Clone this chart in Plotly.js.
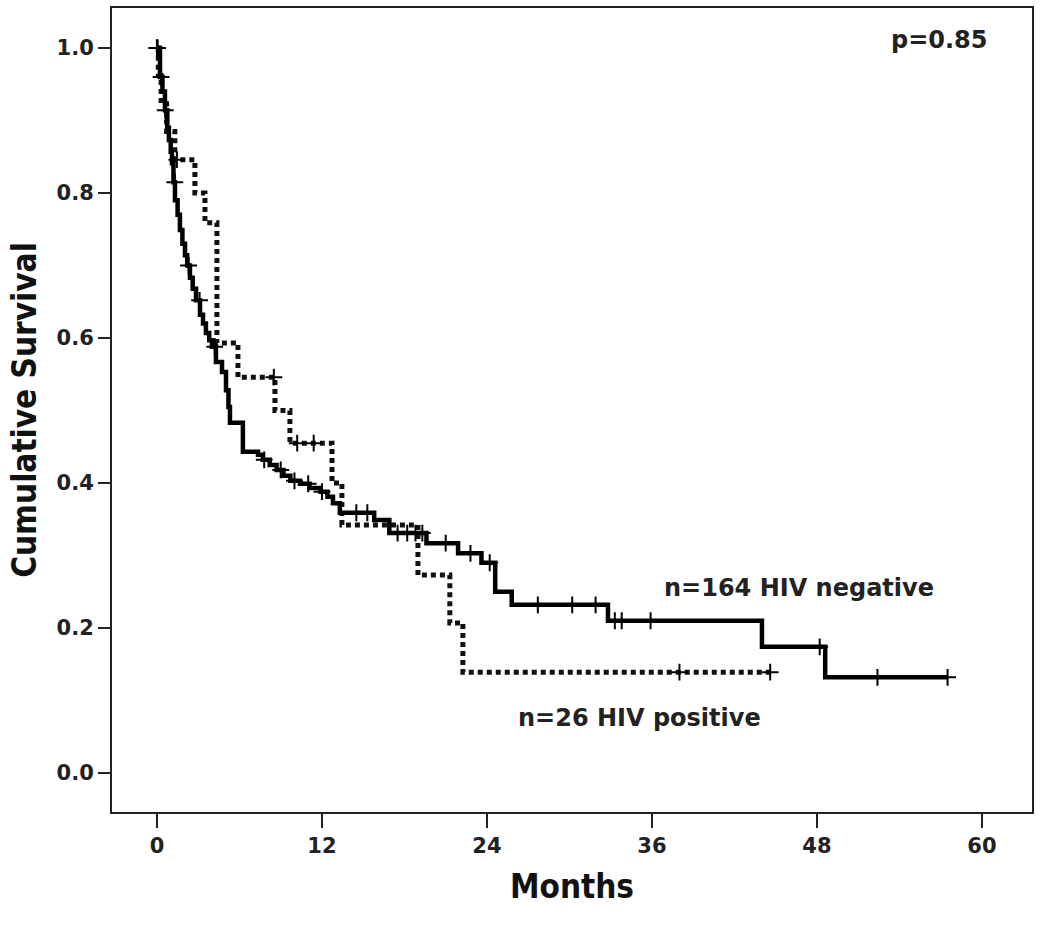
<!DOCTYPE html>
<html>
<head>
<meta charset="utf-8">
<script src="https://cdn.plot.ly/plotly-3.0.1.min.js"></script>
<style>html,body{margin:0;padding:0;background:#fff;}#chart{width:1050px;height:927px;}</style>
</head>
<body>
<div id="chart"></div>
<script>
// HIV negative (n=164) Kaplan-Meier steps: time (months) and survival after each drop
var negTime = [0, 0.22, 0.4, 0.58, 0.75, 0.87, 1.0, 1.09, 1.2, 1.31, 1.5, 1.67, 1.85, 2.04, 2.2, 2.4, 2.6, 2.84, 3.13, 3.35, 3.56, 3.8, 4.0, 4.29, 4.73, 5.02, 5.2, 5.31, 6.25, 7.35, 7.7, 8.2, 8.7, 9.2, 9.7, 10.4, 11.1, 11.9, 12.4, 12.8, 13.3, 15.8, 16.9, 19.6, 21.9, 23.6, 24.6, 25.8, 32.8, 44.0, 48.6, 57.5];
var negSurv = [1.0, 0.96, 0.94, 0.914, 0.89, 0.873, 0.857, 0.841, 0.815, 0.79, 0.77, 0.749, 0.73, 0.714, 0.70, 0.683, 0.668, 0.652, 0.632, 0.62, 0.607, 0.597, 0.588, 0.567, 0.553, 0.528, 0.505, 0.483, 0.443, 0.439, 0.432, 0.425, 0.418, 0.41, 0.403, 0.399, 0.393, 0.388, 0.381, 0.372, 0.359, 0.349, 0.331, 0.317, 0.303, 0.29, 0.25, 0.232, 0.21, 0.174, 0.132, 0.132];
// HIV negative censored observations
var negCensTime = [0.0, 0.05, 0.3, 0.6, 1.3, 2.3, 3.1, 4.2, 7.8, 9.0, 10.0, 11.0, 12.0, 14.5, 15.3, 17.5, 18.2, 18.8, 19.3, 21.0, 22.8, 24.2, 27.7, 30.2, 31.9, 33.3, 33.8, 35.9, 48.2, 52.4, 57.5];
var negCensSurv = [1.0, 1.0, 0.96, 0.914, 0.815, 0.70, 0.652, 0.588, 0.432, 0.418, 0.403, 0.399, 0.388, 0.359, 0.359, 0.331, 0.331, 0.331, 0.331, 0.317, 0.303, 0.29, 0.232, 0.232, 0.232, 0.21, 0.21, 0.21, 0.174, 0.132, 0.132];

// HIV positive (n=26)
var posTime = [0, 0.1, 0.3, 0.7, 1.3, 2.76, 3.49, 4.36, 5.89, 8.58, 9.67, 12.73, 13.45, 18.98, 21.3, 22.25, 44.6];
var posSurv = [1.0, 0.962, 0.923, 0.885, 0.846, 0.80, 0.759, 0.593, 0.546, 0.50, 0.455, 0.40, 0.342, 0.273, 0.207, 0.139, 0.139];
var posCensTime = [0.0, 1.45, 8.5, 10.2, 11.4, 38.0, 44.6];
var posCensSurv = [1.0, 0.846, 0.546, 0.455, 0.455, 0.139, 0.139];

var xTicks = [0, 12, 24, 36, 48, 60];
var yTicks = [0.0, 0.2, 0.4, 0.6, 0.8, 1.0];

var txtFont = {family: 'DejaVu Sans, sans-serif', size: 24, color: '#222', weight: 'bold'};
var titleFont = {family: 'DejaVu Sans Condensed, DejaVu Sans, sans-serif', size: 33, color: '#111', weight: 'bold'};
var tickFont = {family: 'DejaVu Sans, sans-serif', size: 21, color: '#222', weight: 'bold'};

var traces = [
  {x: posTime, y: posSurv, mode: 'lines', line: {shape: 'hv', color: '#111', width: 5, dash: '5px,4px'}, name: 'HIV positive', hoverinfo: 'x+y'},
  {x: negTime, y: negSurv, mode: 'lines', line: {shape: 'hv', color: '#000', width: 4.5}, name: 'HIV negative', hoverinfo: 'x+y'},
  {x: posCensTime, y: posCensSurv, mode: 'markers', marker: {symbol: 'cross-thin-open', size: 12, color: '#000', line: {width: 2, color: '#000'}}, name: 'HIV positive censored'},
  {x: negCensTime, y: negCensSurv, mode: 'markers', marker: {symbol: 'cross-thin-open', size: 12, color: '#000', line: {width: 2, color: '#000'}}, name: 'HIV negative censored'}
];

var layout = {
  width: 1050, height: 927,
  margin: {l: 112, r: 18, t: 8, b: 115},
  paper_bgcolor: '#fff', plot_bgcolor: '#fff',
  showlegend: false,
  xaxis: {
    range: [-3.27, 63.64], tickvals: xTicks, ticktext: xTicks.map(String),
    showgrid: false, zeroline: false, showline: true, mirror: true, linecolor: '#222', linewidth: 2,
    ticks: 'outside', ticklen: 14, tickwidth: 2, tickcolor: '#222', tickfont: tickFont,
    title: {text: 'Months', font: titleFont, standoff: 18}
  },
  yaxis: {
    range: [-0.0538, 1.0552], tickvals: yTicks, tickformat: '.1f',
    showgrid: false, zeroline: false, showline: true, mirror: true, linecolor: '#222', linewidth: 2,
    ticks: 'outside', ticklen: 12, tickwidth: 2, tickcolor: '#222', tickfont: tickFont,
    title: {text: 'Cumulative Survival', font: titleFont, standoff: 10}
  },
  annotations: [
    {x: 56.9, y: 1.011, xref: 'x', yref: 'y', text: 'p=0.85', showarrow: false, font: txtFont},
    {x: 46.7, y: 0.255, xref: 'x', yref: 'y', text: 'n=164 HIV negative', showarrow: false, font: txtFont},
    {x: 35.1, y: 0.076, xref: 'x', yref: 'y', text: 'n=26 HIV positive', showarrow: false, font: txtFont}
  ]
};

Plotly.newPlot('chart', traces, layout, {displayModeBar: false, staticPlot: true});
</script>
</body>
</html>
